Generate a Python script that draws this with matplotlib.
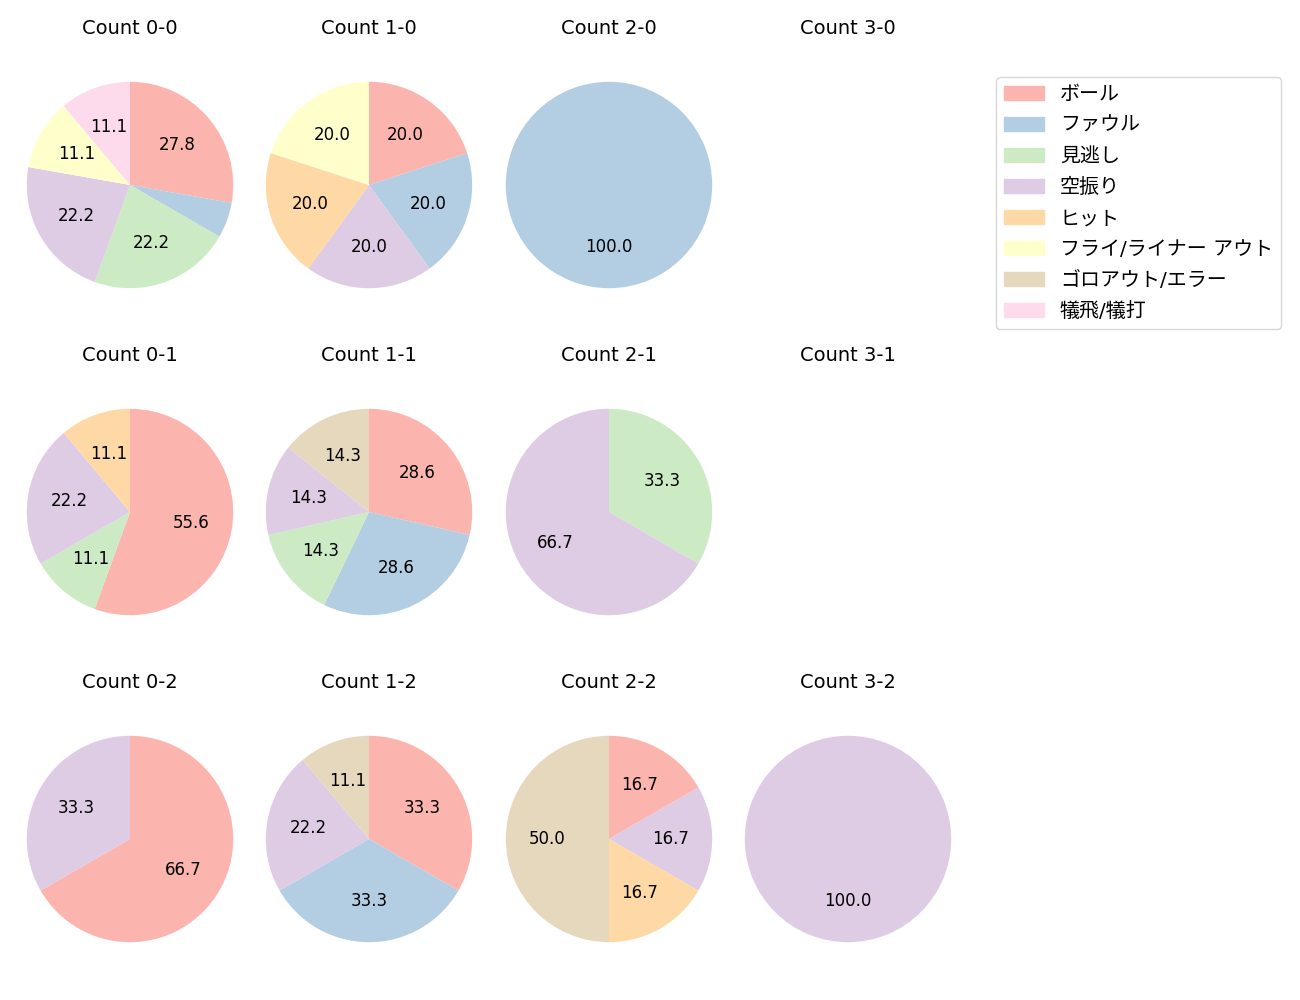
import matplotlib
matplotlib.use('Agg')
import matplotlib.pyplot as plt
from matplotlib.patches import Patch

plt.rcParams['font.family'] = ['DejaVu Sans', 'Noto Sans CJK JP']

categories = ['ボール', 'ファウル', '見逃し', '空振り', 'ヒット',
              'フライ/ライナー アウト', 'ゴロアウト/エラー', '犠飛/犠打']
colors = plt.get_cmap('Pastel1').colors[:8]

# counts per category, order as in categories
counts = {
    '0-0': [5, 1, 4, 4, 0, 2, 0, 2],
    '1-0': [1, 1, 0, 1, 1, 1, 0, 0],
    '2-0': [0, 1, 0, 0, 0, 0, 0, 0],
    '3-0': [0, 0, 0, 0, 0, 0, 0, 0],
    '0-1': [5, 0, 1, 2, 1, 0, 0, 0],
    '1-1': [2, 2, 1, 1, 0, 0, 1, 0],
    '2-1': [0, 0, 1, 2, 0, 0, 0, 0],
    '3-1': [0, 0, 0, 0, 0, 0, 0, 0],
    '0-2': [2, 0, 0, 1, 0, 0, 0, 0],
    '1-2': [3, 3, 0, 2, 0, 0, 1, 0],
    '2-2': [1, 0, 0, 1, 1, 0, 3, 0],
    '3-2': [0, 0, 0, 1, 0, 0, 0, 0],
}

fig = plt.figure(figsize=(13, 10), dpi=100)
W, H = 1300, 1000
size = 258
col_x = [130, 369, 609, 848]
row_y = [185, 512, 839]

for r in range(3):
    for c in range(4):
        key = f'{c}-{r}'
        cx, cy = col_x[c], row_y[r]
        ax = fig.add_axes([(cx - size / 2) / W, 1 - (cy + size / 2) / H, size / W, size / H])
        ax.set_title(f'Count {key}', fontsize=14, pad=15.5)
        vals = counts[key]
        if sum(vals) == 0:
            ax.axis('off')
            continue
        v = [x for x in vals if x > 0]
        cl = [colors[i] for i, x in enumerate(vals) if x > 0]
        ax.pie(v, colors=cl, startangle=90, counterclock=False,
               autopct=lambda p: f'{p:.1f}' if p >= 10 else '',
               textprops={'fontsize': 12})
        ax.set_xlim(-1.25, 1.25)
        ax.set_ylim(-1.25, 1.25)

handles = [Patch(color=colors[i], label=categories[i]) for i in range(8)]
fig.legend(handles=handles, loc='upper right', bbox_to_anchor=(1281 / W, 1 - 77 / H),
           borderaxespad=0, fontsize=14.4, labelspacing=0.6)

plt.savefig('out.png')
